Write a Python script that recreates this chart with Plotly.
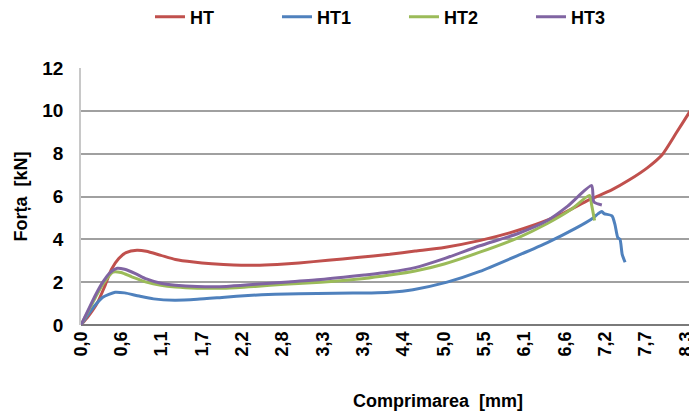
import plotly.graph_objects as go

# ---- data ----
ht_x = [0, 0.1, 0.22, 0.32, 0.42, 0.52, 0.62, 0.77, 0.9, 1.1, 1.3, 1.55, 1.8, 2.1, 2.4, 2.7,
        3.0, 3.4, 3.8, 4.25, 4.6, 5.0, 5.5, 5.9, 6.25, 6.6, 7.0, 7.3, 7.55, 7.8, 8.0, 8.2, 8.35, 8.48]
ht_y = [0, 0.4, 1.0, 1.75, 2.6, 3.1, 3.38, 3.49, 3.44, 3.25, 3.06, 2.94, 2.86, 2.8, 2.79, 2.83,
        2.9, 3.02, 3.15, 3.3, 3.45, 3.62, 3.95, 4.3, 4.68, 5.15, 5.85, 6.3, 6.78, 7.35, 7.95, 9.0, 9.8, 10.5]

ht1_x = [0, 0.1, 0.2, 0.3, 0.47, 0.6, 0.8, 1.0, 1.29, 1.6, 1.98, 2.3, 2.67, 3.0, 3.5, 4.0, 4.25,
         4.57, 5.04, 5.49, 6.05, 6.42, 6.8, 7.05, 7.12, 7.17, 7.2, 7.31, 7.35, 7.39, 7.42, 7.45, 7.49]
ht1_y = [0, 0.5, 0.95, 1.3, 1.53, 1.5, 1.35, 1.22, 1.16, 1.2, 1.3, 1.38, 1.44, 1.46, 1.48, 1.5, 1.53,
         1.65, 2.0, 2.5, 3.3, 3.85, 4.5, 5.0, 5.2, 5.3, 5.2, 5.1, 4.7, 4.08, 4.0, 3.3, 2.93]

ht2_x = [0, 0.1, 0.2, 0.3, 0.44, 0.55, 0.7, 0.9, 1.1, 1.3, 1.6, 2.0, 2.4, 2.8, 3.3, 3.9, 4.25,
         4.6, 5.0, 5.49, 6.0, 6.42, 6.75, 7.0, 7.03, 7.07]
ht2_y = [0, 0.65, 1.3, 1.9, 2.47, 2.45, 2.25, 2.0, 1.85, 1.77, 1.72, 1.72, 1.8, 1.9, 2.0, 2.17, 2.33,
         2.52, 2.85, 3.4, 4.05, 4.74, 5.4, 6.05, 5.6, 4.88]

ht3_x = [0, 0.1, 0.2, 0.3, 0.4, 0.5, 0.6, 0.75, 0.9, 1.1, 1.3, 1.6, 2.0, 2.4, 2.8, 3.3, 3.9, 4.25,
         4.6, 5.0, 5.49, 6.0, 6.42, 6.7, 7.03, 7.06, 7.17]
ht3_y = [0, 0.7, 1.4, 2.0, 2.45, 2.65, 2.6, 2.4, 2.15, 1.95, 1.86, 1.8, 1.8, 1.9, 2.0, 2.12, 2.33, 2.47,
         2.68, 3.1, 3.7, 4.25, 4.88, 5.55, 6.51, 5.75, 5.6]

series_names = ["HT", "HT1", "HT2", "HT3"]
series_colors = ["#C0504D", "#4F81BD", "#9BBB59", "#8064A2"]

x_tick_vals = [0.0, 0.555, 1.11, 1.665, 2.22, 2.775, 3.33, 3.885, 4.44, 4.995,
               5.55, 6.105, 6.66, 7.215, 7.77, 8.325]
x_tick_text = ["0,0", "0,6", "1,1", "1,7", "2,2", "2,8", "3,3", "3,9", "4,4", "5,0",
               "5,5", "6,1", "6,6", "7,2", "7,7", "8,3"]
y_tick_vals = [0, 2, 4, 6, 8, 10, 12]

FONT = "Liberation Sans, Arial, sans-serif"

fig = go.Figure()
for name, color, xs, ys in zip(series_names, series_colors,
                               [ht_x, ht1_x, ht2_x, ht3_x], [ht_y, ht1_y, ht2_y, ht3_y]):
    fig.add_trace(go.Scatter(x=xs, y=ys, mode="lines", name=name,
                             line=dict(color=color, width=3, shape="spline", smoothing=0.6)))

fig.update_layout(
    width=689, height=409,
    margin=dict(l=73, r=0, t=60, b=92, autoexpand=False),
    paper_bgcolor="white", plot_bgcolor="white",
    font=dict(family=FONT, size=18, color="black", weight="bold"),
    showlegend=True,
    legend=dict(orientation="h", x=0.112, xanchor="left", y=1.198, yanchor="middle",
                entrywidth=82, itemwidth=30, font=dict(size=18, weight="bold"),
                tracegroupgap=0),
)
fig.update_xaxes(
    range=[0, 8.48], tickmode="array", tickvals=x_tick_vals, ticktext=x_tick_text,
    tickangle=-90, showgrid=False, zeroline=False, automargin=False,
    showline=False, ticks="", ticklabelstandoff=2,
    tickfont=dict(size=18, weight="bold"),
)
fig.update_yaxes(
    range=[0, 12], tickmode="array", tickvals=y_tick_vals, automargin=False,
    showgrid=True, gridcolor="#a0a0a0", gridwidth=1.5,
    zeroline=True, zerolinecolor="#7a7a7a", zerolinewidth=2,
    showline=True, linecolor="#c8c8c8", linewidth=1.5, ticks="", ticklabelstandoff=12,
    tickfont=dict(size=19, weight="bold"),
    title=dict(text="Forța  [kN]", font=dict(size=18, weight="bold"), standoff=10),
)
fig.add_annotation(text="Comprimarea  [mm]", xref="paper", yref="paper",
                   x=0.58, y=0, yshift=-76, xanchor="center", yanchor="middle",
                   showarrow=False, font=dict(size=18, weight="bold"))

fig.write_html("out.html")
